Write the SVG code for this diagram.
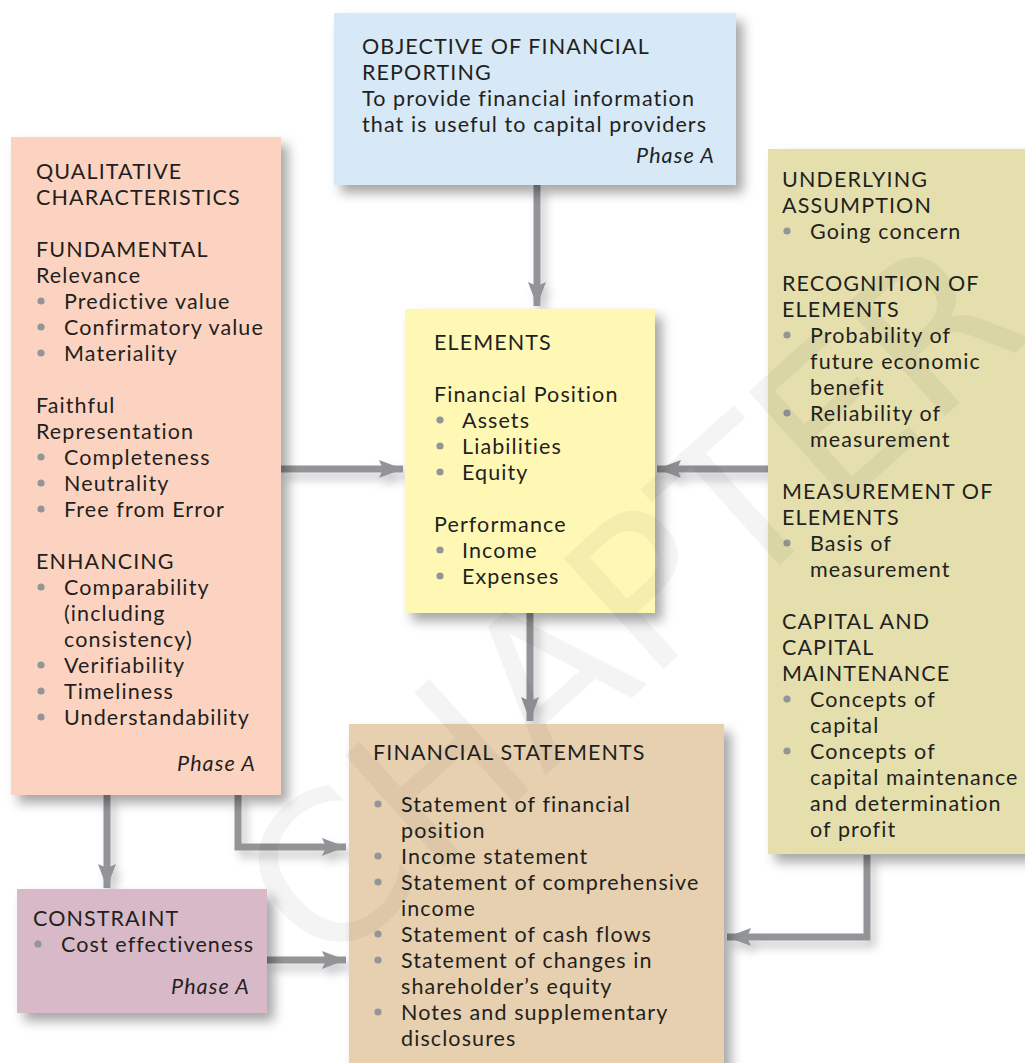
<svg xmlns="http://www.w3.org/2000/svg" width="1025" height="1063" viewBox="0 0 1025 1063">
  <defs>
    <filter id="shadow" x="-20%" y="-20%" width="150%" height="150%">
      <feDropShadow dx="7" dy="8" stdDeviation="6" flood-color="#000" flood-opacity="0.35"/>
    </filter>
    <filter id="lineShadow" x="-30%" y="-30%" width="160%" height="160%">
      <feDropShadow dx="5" dy="7" stdDeviation="5" flood-color="#000" flood-opacity="0.22"/>
    </filter>
    <marker id="head" markerUnits="userSpaceOnUse" markerWidth="26" markerHeight="18" refX="24" refY="9" orient="auto">
      <path d="M0,0 L24,9 L0,18 L4,9 Z" fill="#929497"/>
    </marker>
  </defs>
  <style>
    text { font-family: "Lato", "Noto Sans", "Liberation Sans", sans-serif; font-size: 21.5px; letter-spacing: 1.1px; fill: #231f20; }
    .it { font-style: italic; text-anchor: end; }
    .box { filter: url(#shadow); }
    .bul { fill: #939598; }
    .conn { fill: none; stroke: #929497; stroke-width: 7; marker-end: url(#head); }
    .wm { font-family: "DejaVu Sans", sans-serif; font-size: 205px; letter-spacing: 0; fill: #000; fill-opacity: 0.045; }
  </style>

  <rect width="1025" height="1063" fill="#ffffff"/>

  <!-- connectors -->
  <g id="connectors" filter="url(#lineShadow)">
    <path class="conn" d="M537,185 V306"/>
    <path class="conn" d="M281,469 H403"/>
    <path class="conn" d="M768,469 H657"/>
    <path class="conn" d="M530,613 V721"/>
    <path class="conn" d="M107,795 V888"/>
    <path class="conn" d="M238,795 V847 H346"/>
    <path class="conn" d="M267,960 H346"/>
    <path class="conn" d="M867,855 V937 H727"/>
  </g>

  <!-- objective -->
  <g id="objective">
    <rect class="box" x="334" y="13" width="402" height="172" fill="#d7e8f6"/>
    <text x="362" y="54">OBJECTIVE OF FINANCIAL</text>
    <text x="362" y="80">REPORTING</text>
    <text x="362" y="106">To provide financial information</text>
    <text x="362" y="132">that is useful to capital providers</text>
    <text class="it" x="715" y="163">Phase A</text>
  </g>

  <!-- qualitative characteristics -->
  <g id="qualitative">
    <rect class="box" x="11" y="137" width="270" height="658" fill="#fcd3c1"/>
    <text x="36" y="179">QUALITATIVE</text>
    <text x="36" y="205">CHARACTERISTICS</text>
    <text x="36" y="257">FUNDAMENTAL</text>
    <text x="36" y="283">Relevance</text>
    <circle class="bul" cx="41" cy="301" r="3.6"/><text x="64" y="309">Predictive value</text>
    <circle class="bul" cx="41" cy="327" r="3.6"/><text x="64" y="335">Confirmatory value</text>
    <circle class="bul" cx="41" cy="353" r="3.6"/><text x="64" y="361">Materiality</text>
    <text x="36" y="413">Faithful</text>
    <text x="36" y="439">Representation</text>
    <circle class="bul" cx="41" cy="457" r="3.6"/><text x="64" y="465">Completeness</text>
    <circle class="bul" cx="41" cy="483" r="3.6"/><text x="64" y="491">Neutrality</text>
    <circle class="bul" cx="41" cy="509" r="3.6"/><text x="64" y="517">Free from Error</text>
    <text x="36" y="569">ENHANCING</text>
    <circle class="bul" cx="41" cy="587" r="3.6"/><text x="64" y="595">Comparability</text>
    <text x="64" y="621">(including</text>
    <text x="64" y="647">consistency)</text>
    <circle class="bul" cx="41" cy="665" r="3.6"/><text x="64" y="673">Verifiability</text>
    <circle class="bul" cx="41" cy="691" r="3.6"/><text x="64" y="699">Timeliness</text>
    <circle class="bul" cx="41" cy="717" r="3.6"/><text x="64" y="725">Understandability</text>
    <text class="it" x="256" y="771">Phase A</text>
  </g>

  <!-- elements -->
  <g id="elements">
    <rect class="box" x="405" y="309" width="250" height="304" fill="#fff8b5"/>
    <text x="434" y="350">ELEMENTS</text>
    <text x="434" y="402">Financial Position</text>
    <circle class="bul" cx="440" cy="420" r="3.6"/><text x="462" y="428">Assets</text>
    <circle class="bul" cx="440" cy="446" r="3.6"/><text x="462" y="454">Liabilities</text>
    <circle class="bul" cx="440" cy="472" r="3.6"/><text x="462" y="480">Equity</text>
    <text x="434" y="532">Performance</text>
    <circle class="bul" cx="440" cy="550" r="3.6"/><text x="462" y="558">Income</text>
    <circle class="bul" cx="440" cy="576" r="3.6"/><text x="462" y="584">Expenses</text>
  </g>

  <!-- recognition and measurement -->
  <g id="assumptions">
    <rect class="box" x="768" y="149" width="270" height="705" fill="#e4dfad"/>
    <text x="782" y="187">UNDERLYING</text>
    <text x="782" y="213">ASSUMPTION</text>
    <circle class="bul" cx="787" cy="231" r="3.6"/><text x="810" y="239">Going concern</text>
    <text x="782" y="291">RECOGNITION OF</text>
    <text x="782" y="317">ELEMENTS</text>
    <circle class="bul" cx="787" cy="335" r="3.6"/><text x="810" y="343">Probability of</text>
    <text x="810" y="369">future economic</text>
    <text x="810" y="395">benefit</text>
    <circle class="bul" cx="787" cy="413" r="3.6"/><text x="810" y="421">Reliability of</text>
    <text x="810" y="447">measurement</text>
    <text x="782" y="499">MEASUREMENT OF</text>
    <text x="782" y="525">ELEMENTS</text>
    <circle class="bul" cx="787" cy="543" r="3.6"/><text x="810" y="551">Basis of</text>
    <text x="810" y="577">measurement</text>
    <text x="782" y="629">CAPITAL AND</text>
    <text x="782" y="655">CAPITAL</text>
    <text x="782" y="681">MAINTENANCE</text>
    <circle class="bul" cx="787" cy="699" r="3.6"/><text x="810" y="707">Concepts of</text>
    <text x="810" y="733">capital</text>
    <circle class="bul" cx="787" cy="751" r="3.6"/><text x="810" y="759">Concepts of</text>
    <text x="810" y="785">capital maintenance</text>
    <text x="810" y="811">and determination</text>
    <text x="810" y="837">of profit</text>
  </g>

  <!-- financial statements -->
  <g id="statements">
    <rect class="box" x="349" y="724" width="375" height="360" fill="#e7d0b0"/>
    <text x="373" y="760">FINANCIAL STATEMENTS</text>
    <circle class="bul" cx="378" cy="804" r="3.6"/><text x="401" y="812">Statement of financial</text>
    <text x="401" y="838">position</text>
    <circle class="bul" cx="378" cy="856" r="3.6"/><text x="401" y="864">Income statement</text>
    <circle class="bul" cx="378" cy="882" r="3.6"/><text x="401" y="890">Statement of comprehensive</text>
    <text x="401" y="916">income</text>
    <circle class="bul" cx="378" cy="934" r="3.6"/><text x="401" y="942">Statement of cash flows</text>
    <circle class="bul" cx="378" cy="960" r="3.6"/><text x="401" y="968">Statement of changes in</text>
    <text x="401" y="994">shareholder’s equity</text>
    <circle class="bul" cx="378" cy="1012" r="3.6"/><text x="401" y="1020">Notes and supplementary</text>
    <text x="401" y="1046">disclosures</text>
  </g>

  <!-- constraint -->
  <g id="constraint">
    <rect class="box" x="17" y="889" width="250" height="124" fill="#d8b9c8"/>
    <text x="33" y="926">CONSTRAINT</text>
    <circle class="bul" cx="38" cy="944" r="3.6"/><text x="61" y="952">Cost effectiveness</text>
    <text class="it" x="250" y="994">Phase A</text>
  </g>

  <!-- faint diagonal watermark -->
  <text class="wm" x="0" y="74" text-anchor="middle" transform="translate(630,600) rotate(-42)">CHAPTER</text>
</svg>
